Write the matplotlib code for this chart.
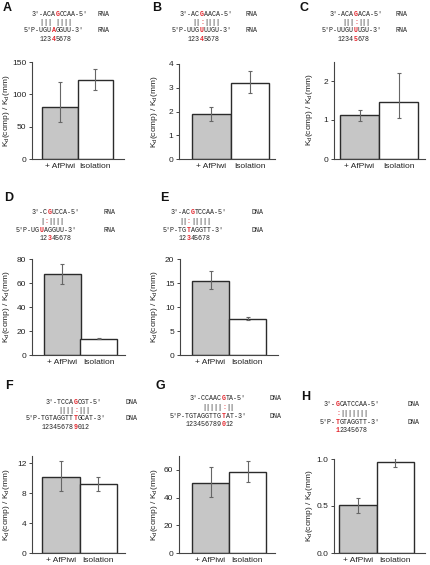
import matplotlib
matplotlib.use('Agg')
import matplotlib.pyplot as plt

# figure size in pixels
W, H = 430, 565

plt.rcParams['font.family'] = ['Liberation Sans', 'DejaVu Sans']
plt.rcParams['mathtext.fontset'] = 'custom'
plt.rcParams['mathtext.rm'] = 'Liberation Sans'

#data
panels = ['A', 'B', 'C', 'D', 'E', 'F', 'G', 'H']
categories = ['+ AfPiwi', 'Isolation']
afpiwi = [81, 1.88, 1.12, 67.2, 15.5, 10.15, 50.2, 0.51]
afpiwi_lo = [57, 1.61, 0.98, 59.4, 13.7, 8.3, 40.3, 0.43]
afpiwi_hi = [119, 2.18, 1.26, 75.6, 17.6, 12.27, 62.4, 0.59]
isolation = [122, 3.21, 1.47, 13.6, 7.6, 9.27, 58.6, 0.965]
isolation_lo = [106.6, 2.79, 1.04, 13.0, 7.2, 8.33, 50.9, 0.91]
isolation_hi = [139.2, 3.69, 2.2, 14.4, 8.0, 10.25, 66.7, 1.01]
ymax = [150, 4, 2.5, 80, 20, 13, 70, 1.0]
yticks = [[0, 50, 100, 150], [0, 1, 2, 3, 4], [0, 1, 2], [0, 20, 40, 60, 80],
          [0, 5, 10, 15, 20], [0, 4, 8, 12], [0, 20, 40, 60], [0.0, 0.5, 1.0]]
ytick_labels = [['0', '50', '100', '150'], ['0', '1', '2', '3', '4'], ['0', '1', '2'],
                ['0', '20', '40', '60', '80'], ['0', '5', '10', '15', '20'],
                ['0', '4', '8', '12'], ['0', '20', '40', '60'], ['0.0', '0.5', '1.0']]

# duplexes (strings) and which character is highlighted red
top_strand = ["3'-ACAGCCAA-5'", "3'-ACGAACA-5'", "3'-ACAGACA-5'", "3'-CGUCCA-5'",
              "3'-ACGTCCAA-5'", "3'-TCCAGCGT-5'", "3'-CCAACGTA-5'", "3'-GCATCCAA-5'"]
top_red = [6, 5, 6, 4, 5, 7, 8, 3]
pair_line = ["||| ||||", "||:||||", "|||:|||", "|:||||", "||:|||||", "||||:|||", "|||||:||", ":|||||||"]
pair_red = [None, 2, 3, 1, 2, 4, 5, 0]
bottom_strand = ["5'P-UGUAGGUU-3'", "5'P-UUGUUUGU-3'", "5'P-UUGUUUGU-3'", "5'P-UGUAGGUU-3'",
                 "5'P-TGTAGGTT-3'", "5'P-TGTAGGTTTGCAT-3'", "5'P-TGTAGGTTGTAT-3'", "5'P-TGTAGGTT-3'"]
bottom_red = [7, 7, 8, 6, 6, 12, 13, 4]
numbers = ["12345678", "12345678", "12345678", "12345678",
           "12345678", "123456789012", "123456789012", "12345678"]
number_red = [3, 3, 4, 2, 2, 8, 9, 0]
mol_type = ['RNA', 'RNA', 'RNA', 'RNA', 'DNA', 'DNA', 'DNA', 'DNA']

# layout (pixels): axes box l,t,r,b ; outer bar edges ; panel letter ; duplex origin
axes_px = [(32, 62, 124, 159), (179, 64, 275, 159), (334, 61.5, 425, 159),
           (32, 259, 125, 355), (180, 259, 278, 355),
           (32, 456, 125, 553), (179, 456, 275, 553), (334, 459, 425, 553)]
bars_px = [(42, 113), (192, 269), (340, 418), (44, 117), (192, 266),
           (42, 117), (192, 266), (339, 414)]
ylabel_x = [12, 160, 315, 12, 160, 12, 160, 315]
letter_px = [(3, 8), (152, 8), (299, 8), (4, 198), (160, 198), (5, 386), (155, 386), (301, 397)]
seq_px = [(24, 14), (172, 14), (322, 14), (16, 213), (163, 213), (26, 402), (170, 399), (320, 405)]
top_col = [2, 2, 2, 4, 2, 5, 5, 1]
pair_col = [4, 5, 5, 6, 4, 8, 8, 4]
num_col = [4, 4, 4, 6, 4, 4, 4, 4]
type_x = [97, 245, 395, 104, 252, 125, 270, 407]

CW = 4.0       # monospace char width, px
FS = CW / 0.6 * 72 / 100
LS = 8.5       # line step, px
RED = '#e3262d'

fig = plt.figure(figsize=(W / 100, H / 100), dpi=100)


def put(x, y, s, **kw):
    fig.text(x / W, 1 - y / H, s, ha='left', va='center', **kw)


def seq_line(x, y, s, red):
    mono = dict(family='Liberation Mono', fontsize=FS)
    if red is None:
        put(x, y, s, color='#222222', **mono)
        return
    if s[:red]:
        put(x, y, s[:red], color='#222222', **mono)
    put(x + red * CW, y, s[red], color=RED, fontweight='bold', **mono)
    if s[red + 1:]:
        put(x + (red + 1) * CW, y, s[red + 1:], color='#222222', **mono)


for i in range(8):
    l, t, r, b = axes_px[i]
    ax = fig.add_axes([l / W, 1 - b / H, (r - l) / W, (b - t) / H])
    vals = [afpiwi[i], isolation[i]]
    lo = [afpiwi[i] - afpiwi_lo[i], isolation[i] - isolation_lo[i]]
    hi = [afpiwi_hi[i] - afpiwi[i], isolation_hi[i] - isolation[i]]
    ax.bar([0, 1], vals, width=1.0, color=['#c6c6c6', 'white'],
           edgecolor='#2b2b2b', linewidth=1.0, zorder=2)
    ax.errorbar([0, 1], vals, yerr=[lo, hi], fmt='none', ecolor='#666666',
                elinewidth=0.8, capsize=1.6, capthick=0.8, zorder=3)
    # x range so that the bars land where they sit in the reference
    p0, p2 = bars_px[i]
    unit = (p2 - p0) / 2
    ax.set_xlim(-0.5 - (p0 - l) / unit, 1.5 + (r - p2) / unit)
    ax.set_ylim(0, ymax[i])
    ax.set_yticks(yticks[i])
    ax.set_yticklabels(ytick_labels[i])
    ax.set_xticks([0, 1])
    ax.set_xticklabels(categories)
    for sp in ['top', 'right']:
        ax.spines[sp].set_visible(False)
    for sp in ['left', 'bottom']:
        ax.spines[sp].set_color('#444444')
        ax.spines[sp].set_linewidth(0.8)
    ax.tick_params(axis='y', direction='out', length=2.5, width=0.7, colors='#444444',
                   labelsize=6, labelcolor='#222222', pad=1.5)
    ax.tick_params(axis='x', length=0, labelsize=6, labelcolor='#222222', pad=3)
    ax.set_ylabel(r'K$_\mathregular{d}$(comp) / K$_\mathregular{d}$(mm)', fontsize=6,
                  color='#222222')
    ax.yaxis.set_label_coords((ylabel_x[i] - l) / (r - l), 0.5)
    ax.patch.set_visible(False)

    # panel letter
    lx, ly = letter_px[i]
    put(lx, ly, panels[i], fontsize=9, fontweight='bold', color='#111111')

    # duplex
    x0, y0 = seq_px[i]
    seq_line(x0 + top_col[i] * CW, y0, top_strand[i], top_red[i])
    seq_line(x0 + pair_col[i] * CW, y0 + LS, pair_line[i], pair_red[i])
    seq_line(x0, y0 + 2 * LS, bottom_strand[i], bottom_red[i])
    seq_line(x0 + num_col[i] * CW, y0 + 3 * LS, numbers[i], number_red[i])
    put(type_x[i], y0, mol_type[i], family='Liberation Mono', fontsize=FS, color='#222222')
    put(type_x[i], y0 + 2 * LS, mol_type[i], family='Liberation Mono', fontsize=FS, color='#222222')

fig.savefig('out.png', dpi=100)
